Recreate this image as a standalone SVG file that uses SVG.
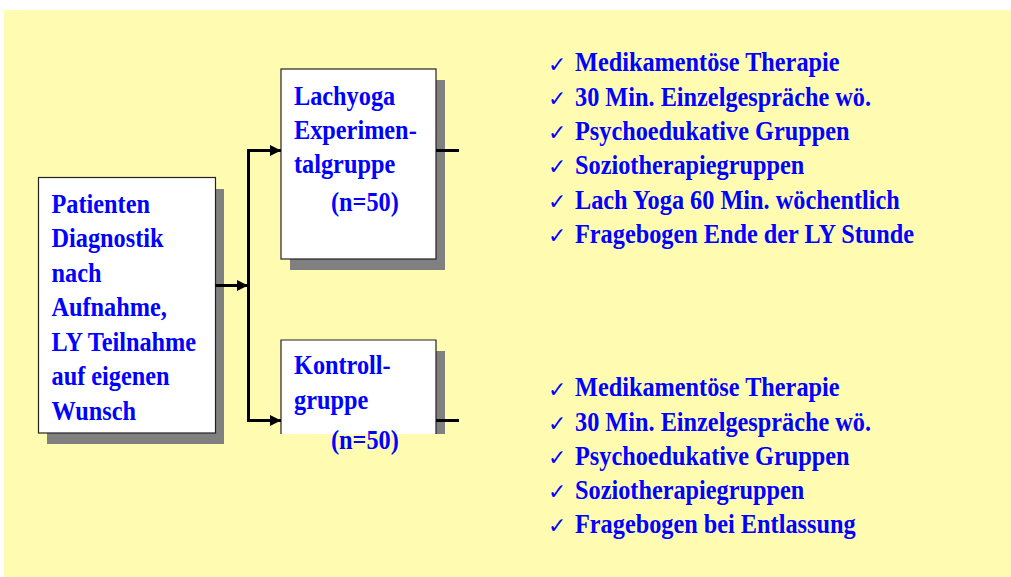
<svg xmlns="http://www.w3.org/2000/svg" width="1011" height="577" viewBox="0 0 1011 577">
  <style>
    .t { font-family: "Liberation Serif", "Times New Roman", serif; font-weight: bold; font-size: 27.6px; fill: #0000FF; }
    .ck { font-family: "DejaVu Sans", sans-serif; font-size: 22px; fill: #0000FF; }
    .box { fill: #FFFFFF; stroke: #222222; stroke-width: 1.2; }
    .shadow { fill: #808080; }
    .conn { stroke: #000000; stroke-width: 3; fill: none; }
  </style>
  <defs>
    <marker id="arrow" markerUnits="userSpaceOnUse" markerWidth="12" markerHeight="12" refX="11" refY="5.5" orient="auto">
      <path d="M0,0 L11,5.5 L0,11 Z" fill="#000000"/>
    </marker>
  </defs>

  <rect x="4" y="10" width="1007" height="567" fill="#FFFCB2"/>

  <g id="node-patienten">
    <rect class="shadow" x="47" y="189" width="177" height="255"/>
    <rect class="box" x="38.5" y="177.5" width="177" height="255.5"/>
    <g transform="translate(51.5 0) scale(0.88 1)">
      <text class="t" x="0" y="213">Patienten</text>
      <text class="t" x="0" y="247.5">Diagnostik</text>
      <text class="t" x="0" y="282">nach</text>
      <text class="t" x="0" y="316.5">Aufnahme,</text>
      <text class="t" x="0" y="351">LY Teilnahme</text>
      <text class="t" x="0" y="385.5">auf eigenen</text>
      <text class="t" x="0" y="420">Wunsch</text>
    </g>
  </g>

  <g id="node-lachyoga">
    <rect class="shadow" x="290" y="80" width="155" height="190"/>
    <rect class="box" x="281" y="69" width="155" height="190"/>
    <g transform="translate(294 0) scale(0.88 1)">
      <text class="t" x="0" y="105">Lachyoga</text>
      <text class="t" x="0" y="139">Experimen-</text>
      <text class="t" x="0" y="173.5">talgruppe</text>
    </g>
    <g transform="translate(331 0) scale(0.88 1)">
      <text class="t" x="0" y="211">(n=50)</text>
    </g>
  </g>

  <g id="node-kontroll">
    <rect class="shadow" x="290" y="351" width="155" height="83"/>
    <rect x="281" y="340" width="155" height="94" fill="#FFFFFF"/>
    <path d="M281,434 V340 H436 V434" fill="none" stroke="#222222" stroke-width="1.2"/>
    <g transform="translate(294 0) scale(0.88 1)">
      <text class="t" x="0" y="374.5">Kontroll-</text>
      <text class="t" x="0" y="409">gruppe</text>
    </g>
    <g transform="translate(331 0) scale(0.88 1)">
      <text class="t" x="0" y="449.5">(n=50)</text>
    </g>
  </g>

  <g id="connectors">
    <line class="conn" x1="215.5" y1="285.5" x2="248" y2="285.5" marker-end="url(#arrow)"/>
    <line class="conn" x1="248.5" y1="149" x2="248.5" y2="421.5"/>
    <line class="conn" x1="247" y1="150.5" x2="281" y2="150.5" marker-end="url(#arrow)"/>
    <line class="conn" x1="247" y1="420.5" x2="281" y2="420.5" marker-end="url(#arrow)"/>
    <line class="conn" x1="436" y1="150.5" x2="459" y2="150.5"/>
    <line class="conn" x1="436" y1="420.5" x2="459" y2="420.5"/>
  </g>

  <g id="list-experimental">
    <text class="ck" x="548" y="71.5">✓</text>
    <text class="ck" x="548" y="105.8">✓</text>
    <text class="ck" x="548" y="140.1">✓</text>
    <text class="ck" x="548" y="174.4">✓</text>
    <text class="ck" x="548" y="208.7">✓</text>
    <text class="ck" x="548" y="243">✓</text>
    <g transform="translate(575 0) scale(0.88 1)">
      <text class="t" x="0" y="71.5">Medikamentöse Therapie</text>
      <text class="t" x="0" y="105.8">30 Min. Einzelgespräche wö.</text>
      <text class="t" x="0" y="140.1">Psychoedukative Gruppen</text>
      <text class="t" x="0" y="174.4">Soziotherapiegruppen</text>
      <text class="t" x="0" y="208.7">Lach Yoga 60 Min. wöchentlich</text>
      <text class="t" x="0" y="243">Fragebogen Ende der LY Stunde</text>
    </g>
  </g>

  <g id="list-kontroll">
    <text class="ck" x="548" y="396.5">✓</text>
    <text class="ck" x="548" y="430.7">✓</text>
    <text class="ck" x="548" y="464.9">✓</text>
    <text class="ck" x="548" y="499.1">✓</text>
    <text class="ck" x="548" y="533.3">✓</text>
    <g transform="translate(575 0) scale(0.88 1)">
      <text class="t" x="0" y="396.5">Medikamentöse Therapie</text>
      <text class="t" x="0" y="430.7">30 Min. Einzelgespräche wö.</text>
      <text class="t" x="0" y="464.9">Psychoedukative Gruppen</text>
      <text class="t" x="0" y="499.1">Soziotherapiegruppen</text>
      <text class="t" x="0" y="533.3">Fragebogen bei Entlassung</text>
    </g>
  </g>
</svg>
